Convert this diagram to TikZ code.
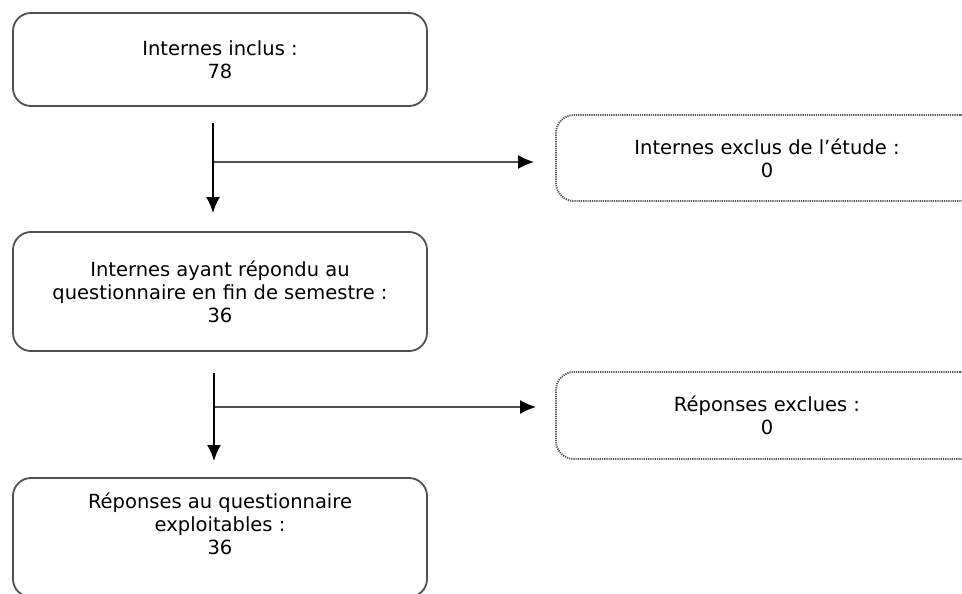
\documentclass[tikz,border=0pt]{standalone}
\usepackage{fontspec}
\setmainfont{DejaVu Sans}
\usetikzlibrary{arrows.meta}
\definecolor{boxgray}{RGB}{80,80,80}
\definecolor{dotgray}{RGB}{85,85,85}
\begin{document}
\begin{tikzpicture}[x=1pt,y=-1pt,>={Latex[length=16pt,width=14pt]},
  etape/.style={draw=boxgray, line width=1.8pt, rounded corners=18pt, align=center,
    minimum width=414pt, font=\fontsize{19.5}{23}\selectfont},
  exclu/.style={draw=dotgray, line width=1.8pt, dash pattern=on 1.2pt off 1pt,
    rounded corners=18pt, align=center, minimum width=422pt,
    font=\fontsize{19.5}{23}\selectfont},
  fleche/.style={->, line width=1.8pt, black},
  branche/.style={-{Latex[length=16pt,width=14pt,color=black]}, line width=1.4pt, draw=boxgray}]
\clip (0,0) rectangle (962,594);

\node(Incl)[etape, minimum height=93pt] at (220,59.5) {Internes inclus :\\78};
\node(Exclu)[exclu, minimum height=86pt] at (767,158) {Internes exclus de l’étude :\\0};
\node(Rep)[etape, minimum height=119pt] at (220,291.5) {Internes ayant répondu au\\questionnaire en fin de semestre :\\36};
\node(RepExcl)[exclu, minimum height=87pt] at (767,415.5) {Réponses exclues :\\0};
\node(Expl)[etape, minimum height=119pt, text depth=28pt] at (220,537.5) {Réponses au questionnaire\\exploitables :\\36};

% premier embranchement
\coordinate(A1) at (213,123);
\coordinate(B1) at (213,213);
\coordinate(C1) at (213,162);
\coordinate(D1) at (534,162);
\draw (C1) edge[branche] (D1);
\draw (A1) edge[fleche] (B1);

% second embranchement
\coordinate(A2) at (214,373);
\coordinate(B2) at (214,461);
\coordinate(C2) at (214,407);
\coordinate(D2) at (536,407);
\draw (C2) edge[branche] (D2);
\draw (A2) edge[fleche] (B2);
\end{tikzpicture}
\end{document}
